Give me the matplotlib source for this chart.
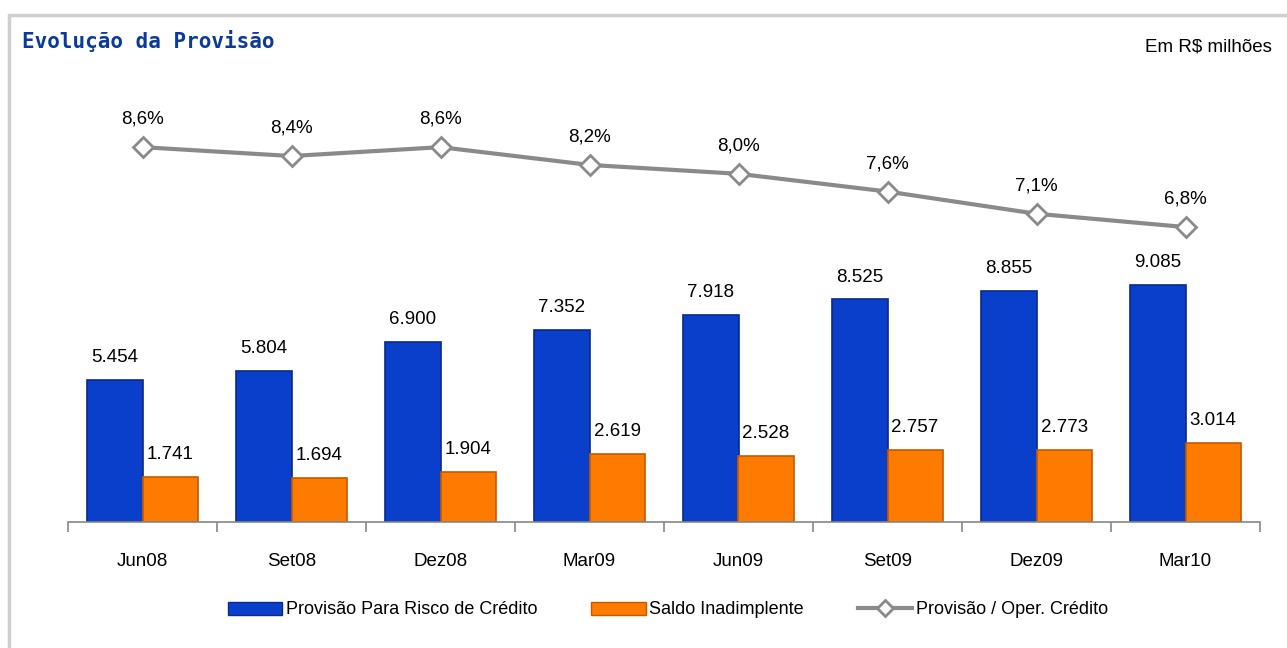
import matplotlib.pyplot as plt
import matplotlib.patches as mpatches
from matplotlib.lines import Line2D
import numpy as np

plt.rcParams['font.family'] = ['Liberation Sans', 'DejaVu Sans']

# dados
periodos = ['Jun08', 'Set08', 'Dez08', 'Mar09', 'Jun09', 'Set09', 'Dez09', 'Mar10']
provisao = [5454, 5804, 6900, 7352, 7918, 8525, 8855, 9085]
inadimplente = [1741, 1694, 1904, 2619, 2528, 2757, 2773, 3014]
prov_oper = [8.6, 8.4, 8.6, 8.2, 8.0, 7.6, 7.1, 6.8]

azul = '#0a3fcc'
laranja = '#ff7b00'
cinza = '#8a8a8a'

fig = plt.figure(figsize=(12.87, 6.48), dpi=100)
W, H = 1287, 648

# moldura cinza
fig.patches.append(mpatches.Rectangle((9 / W, -0.05), 1.05, 1 - 15 / H + 0.05,
                                      transform=fig.transFigure, fill=False,
                                      edgecolor='#cfcfcf', linewidth=2.5))

ax = fig.add_axes([68 / W, 1 - 522 / H, (1260 - 68) / W, (522 - 80) / H])
x = np.arange(len(periodos))
bw = 0.37
ax.bar(x - bw / 2, provisao, bw, color=azul, edgecolor='#0a2a8a', linewidth=1.2)
ax.bar(x + bw / 2, inadimplente, bw, color=laranja, edgecolor='#c45a00', linewidth=1.2)

for i in range(len(periodos)):
    ax.annotate(f'{provisao[i] / 1000:.3f}', (x[i] - bw / 2, provisao[i]), xytext=(0, 10),
                textcoords='offset points', ha='center', va='bottom', fontsize=13.5)
    ax.annotate(f'{inadimplente[i] / 1000:.3f}', (x[i] + bw / 2, inadimplente[i]), xytext=(0, 10),
                textcoords='offset points', ha='center', va='bottom', fontsize=13.5)

ax.set_xlim(-0.5, 7.5)
ax.set_ylim(0, 442 / 0.0261)
ax.set_xticks(x)
ax.set_xticklabels(periodos, fontsize=13.5)
ax.set_xticks(np.arange(-0.5, 8, 1), minor=True)
ax.tick_params(axis='x', which='major', length=0, pad=22)
ax.tick_params(axis='x', which='minor', length=7, color='#888888', width=1.2)
ax.set_yticks([])
for s in ['top', 'right', 'left']:
    ax.spines[s].set_visible(False)
ax.spines['bottom'].set_color('#888888')
ax.spines['bottom'].set_linewidth(1.2)
ax.patch.set_alpha(0)

ax2 = ax.twinx()
ax2.plot(x, prov_oper, color=cinza, lw=3, marker='D', markersize=10,
         markerfacecolor='white', markeredgecolor=cinza, markeredgewidth=2, zorder=5)
for i in range(len(periodos)):
    ax2.annotate(f'{prov_oper[i]:.1f}%'.replace('.', ','), (x[i], prov_oper[i]), xytext=(0, 14),
                 textcoords='offset points', ha='center', va='bottom', fontsize=13.5)
ax2.set_ylim(7 / 44.4, (529 - 80) / 44.4)
ax2.set_yticks([])
for s in ['top', 'right', 'left', 'bottom']:
    ax2.spines[s].set_visible(False)

fig.text(22 / W, 1 - 41 / H, 'Evolução da Provisão', fontsize=15, fontweight='bold',
         family='DejaVu Sans Mono', color='#0b3a9c', va='center')
fig.text(1272 / W, 1 - 47 / H, 'Em R$ milhões', fontsize=13.5, ha='right', va='center')

handles = [mpatches.Patch(facecolor=azul, edgecolor='#0a2a8a'),
           mpatches.Patch(facecolor=laranja, edgecolor='#c45a00'),
           Line2D([], [], color=cinza, lw=3, marker='D', markersize=8,
                  markerfacecolor='white', markeredgecolor=cinza, markeredgewidth=2)]
labels = ['Provisão Para Risco de Crédito', 'Saldo Inadimplente', 'Provisão / Oper. Crédito']
fig.legend(handles, labels, loc='center', bbox_to_anchor=(668 / W, 1 - 610 / H), ncol=3,
           frameon=False, fontsize=13, handlelength=3, handletextpad=0.2, columnspacing=3)

fig.savefig('out.png', dpi=100)
